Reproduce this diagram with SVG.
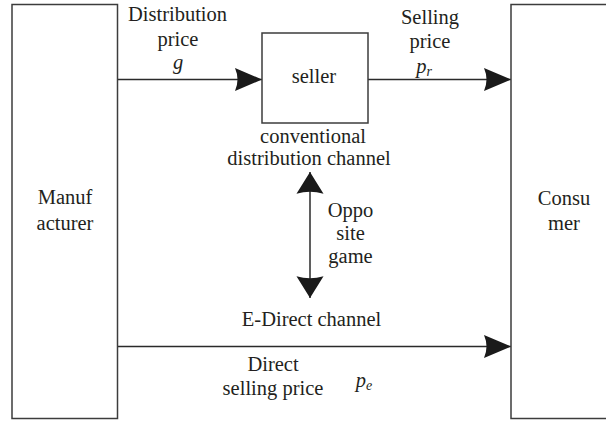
<svg xmlns="http://www.w3.org/2000/svg" width="606" height="421" viewBox="0 0 606 421">
  <style>
    .box { fill: #ffffff; stroke: #3c3c3c; stroke-width: 1.5; }
    .link { fill: none; stroke: #2a2a2a; stroke-width: 1.5; }
    text { font-family: "Liberation Serif", "Times New Roman", "DejaVu Serif", serif; font-size: 20.5px; fill: #231f20; text-anchor: middle; }
    .it { font-style: italic; }
    .sub { font-size: 14px; font-style: italic; }
  </style>
  <defs>
    <marker id="headH" markerUnits="userSpaceOnUse" markerWidth="30" markerHeight="26" viewBox="-28 -13 30 26" refX="0" refY="0" orient="auto">
      <path d="M0,0 L-27,-11.5 Q-22,0 -27,11.5 Z" fill="#1a1a1a"/>
    </marker>
    <marker id="headV" markerUnits="userSpaceOnUse" markerWidth="26" markerHeight="30" viewBox="-23 -14 25 28" refX="0" refY="0" orient="auto-start-reverse">
      <path d="M0,0 L-21,-13 Q-17,0 -21,13 Z" fill="#1a1a1a"/>
    </marker>
  </defs>
  <rect width="606" height="421" fill="#ffffff"/>

  <!-- connectors and their labels -->
  <g id="connectors">
    <line class="link" x1="117.5" y1="79.5" x2="262" y2="79.5" marker-end="url(#headH)"/>
    <line class="link" x1="368" y1="79.5" x2="511" y2="79.5" marker-end="url(#headH)"/>
    <line class="link" x1="117.5" y1="346.5" x2="511" y2="346.5" marker-end="url(#headH)"/>
    <line class="link" x1="310" y1="172" x2="310" y2="298" marker-start="url(#headV)" marker-end="url(#headV)"/>
    <text x="177.5" y="21">Distribution</text>
    <text x="178" y="46">price</text>
    <text class="it" x="178" y="69">g</text>
    <text x="430" y="24">Selling</text>
    <text x="430" y="48">price</text>
    <text class="it" x="424" y="73">p<tspan class="sub" dy="3">r</tspan></text>
    <text x="313" y="143">conventional</text>
    <text x="309" y="165">distribution channel</text>
    <text x="350.5" y="217">Oppo</text>
    <text x="350.5" y="240">site</text>
    <text x="350.5" y="263">game</text>
    <text x="311.5" y="326">E-Direct channel</text>
    <text x="273" y="370.5">Direct</text>
    <text x="273" y="395">selling price</text>
    <text class="it" x="364" y="387">p<tspan class="sub" dy="3">e</tspan></text>
  </g>

  <g id="manufacturer">
    <rect class="box" x="12" y="4.5" width="105.5" height="414"/>
    <text x="65" y="204">Manuf</text>
    <text x="65" y="230">acturer</text>
  </g>

  <g id="seller">
    <rect class="box" x="262" y="33" width="106" height="90"/>
    <text x="314" y="83">seller</text>
  </g>

  <g id="consumer">
    <rect class="box" x="511" y="4.5" width="110" height="414"/>
    <text x="564" y="205">Consu</text>
    <text x="564" y="230">mer</text>
  </g>
</svg>
